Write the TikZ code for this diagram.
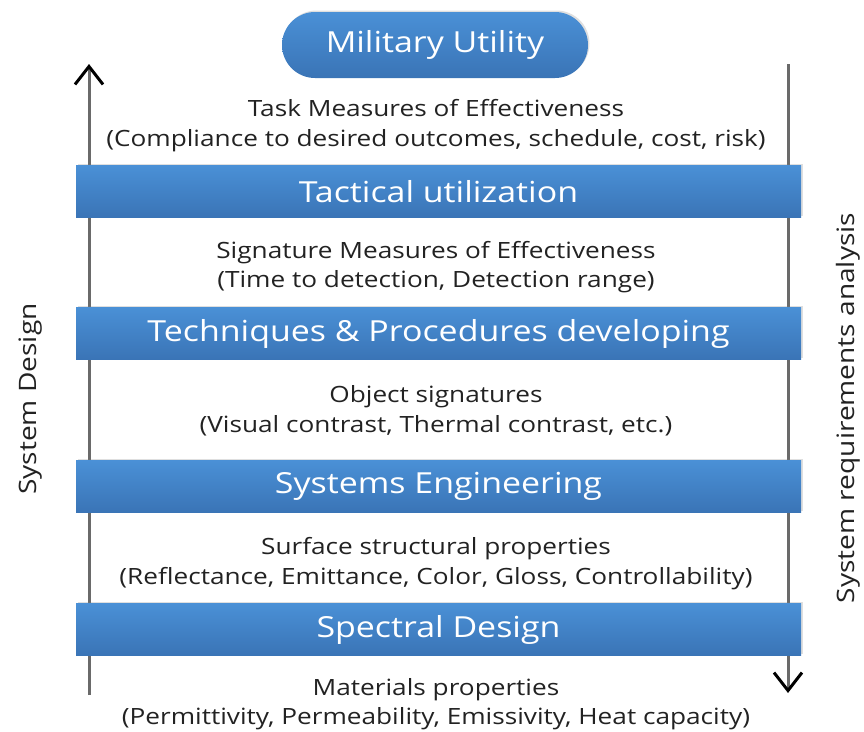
\documentclass[tikz,border=0pt]{standalone}
\usepackage{fontspec}
\setmainfont{Open Sans}[FakeStretch=1.17]
\usetikzlibrary{arrows.meta,shadows}
\definecolor{bartop}{HTML}{4A90D6}
\definecolor{barbot}{HTML}{3A74B6}
\definecolor{txt}{HTML}{222222}
\definecolor{shaft}{HTML}{6A6A6A}
\tikzset{
  bar/.style={rectangle, minimum width=725pt, minimum height=52pt, inner sep=0pt,
    top color=bartop, bottom color=barbot, draw=none, text=white,
    drop shadow={shadow xshift=1.5pt, shadow yshift=1.5pt, opacity=0.25},
    font=\fontsize{29}{34}\selectfont},
  pill/.style={rectangle, rounded corners=33pt, minimum width=306pt, minimum height=66pt, inner sep=0pt,
    top color=bartop, bottom color=barbot, draw=none, text=white,
    drop shadow={shadow xshift=1.5pt, shadow yshift=1.5pt, opacity=0.25},
    font=\fontsize{29}{34}\selectfont},
  desc/.style={align=center, text=txt, inner sep=0pt, font=\fontsize{22.4}{29.5}\selectfont},
  side/.style={text=txt, inner sep=0pt, font=\fontsize{24}{30}\selectfont, rotate=90},
  flow/.style={draw=shaft, line width=3pt,
    -{Straight Barb[length=18pt,width=28pt,line width=3pt,color=black]}}
}
\begin{document}
\begin{tikzpicture}[x=1pt,y=-1pt]
\useasboundingbox (0,0) rectangle (864,731);
\coordinate (lb) at (89,695);
\coordinate (lt) at (89,64);
\coordinate (rt) at (788,64);
\coordinate (rb) at (788,693);
\draw[flow] (lb) -- (lt);
\draw[flow] (rt) -- (rb);

\node[pill] (mu) at (435,45) {Military Utility};
\node[bar] (tu) at (438.5,191.5) {Tactical utilization};
\node[bar] (tp) at (438.5,333.5) {Techniques \& Procedures developing};
\node[bar] (se) at (438.5,486.5) {Systems Engineering};
\node[bar] (sd) at (438.5,629.5) {Spectral Design};

\node[desc] (d1) at (436,125.5) {Task Measures of Effectiveness\\(Compliance to desired outcomes, schedule, cost, risk)};
\node[desc] (d2) at (436,267) {Signature Measures of Effectiveness\\(Time to detection, Detection range)};
\node[desc] (d3) at (436,411) {Object signatures\\(Visual contrast, Thermal contrast, etc.)};
\node[desc] (d4) at (436,563.5) {Surface structural properties\\(Reflectance, Emittance, Color, Gloss, Controllability)};
\node[desc] (d5) at (436,704) {Materials properties\\(Permittivity, Permeability, Emissivity, Heat capacity)};

\node[side] (sdl) at (31,399) {System Design};
\node[side] (sra) at (848,408) {System requirements analysis};
\end{tikzpicture}
\end{document}
